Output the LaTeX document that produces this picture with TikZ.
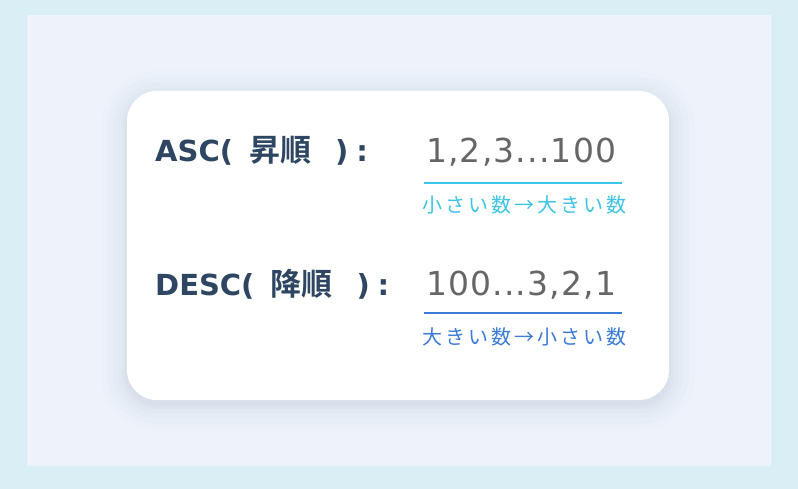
\documentclass[tikz,border=0pt]{standalone}
\usepackage{fontspec}
\newfontfamily\jp{Noto Sans CJK JP}[BoldFont={Noto Sans CJK JP Bold}]
\newfontfamily\jpsp{Noto Sans CJK JP}[LetterSpace=15]
\newfontfamily\dv{DejaVu Sans}
\newfontfamily\dvnum{DejaVu Sans}[LetterSpace=3.5]
\definecolor{outerbg}{HTML}{D9EEF5}
\definecolor{innerbg}{HTML}{EEF3FB}
\definecolor{headcol}{HTML}{2E4661}
\definecolor{numcol}{HTML}{666666}
\definecolor{asccol}{HTML}{3CC3E6}
\definecolor{desccol}{HTML}{3A7BD5}
\definecolor{shadowcol}{HTML}{A9B8CC}
\tikzset{
  head/.style={anchor=base west, inner sep=0pt, text=headcol, font=\dv\bfseries\fontsize{29}{32}\selectfont},
  nums/.style={anchor=base west, inner sep=0pt, text=numcol, font=\dvnum\fontsize{33}{35}\selectfont},
  sub/.style={anchor=base, inner sep=0pt, font=\jpsp\fontsize{20}{22}\selectfont},
  uline/.style={line width=2.2pt}
}
\newcommand{\cj}[1]{{\jp\bfseries\fontsize{31}{33}\selectfont #1}}
\begin{document}
\begin{tikzpicture}[x=1pt,y=-1pt]
\useasboundingbox (0,0) rectangle (798,489);
\fill[outerbg] (0,0) rectangle (798,489);
\fill[innerbg] (27,15) rectangle (771,466);
% shadow layers
\foreach \d/\o in {26/0.03,20/0.04,14/0.05,9/0.06,5/0.07,2/0.08}{
  \fill[shadowcol, opacity=\o, rounded corners=30+\d] (127-\d,93-\d+4) rectangle (669+\d,400+\d+4);
}
\node[draw=none, fill=white, rounded corners=30, minimum width=542pt, minimum height=309pt, inner sep=0pt] (card) at (398,245.5) {};
% ASC row
\node[head] (asc) at (155,162) {ASC(\hspace{16pt}\cj{昇順}\hspace{24pt})\hspace{8pt}:};
\node[nums] (ascnum) at (426,163) {1,2,3...100};
\coordinate (ascl) at (424,183);
\coordinate (ascr) at (622,183);
\draw[uline, asccol] (ascl) -- (ascr);
\node[sub, text=asccol] (asclab) at (524,213) {小さい数→大きい数};
% DESC row
\node[head] (desc) at (155,295) {DESC(\hspace{16pt}\cj{降順}\hspace{24pt})\hspace{8pt}:};
\node[nums] (descnum) at (426,295) {100...3,2,1};
\coordinate (descl) at (424,313);
\coordinate (descr) at (622,313);
\draw[uline, desccol] (descl) -- (descr);
\node[sub, text=desccol] (desclab) at (524,344) {大きい数→小さい数};
\end{tikzpicture}
\end{document}
